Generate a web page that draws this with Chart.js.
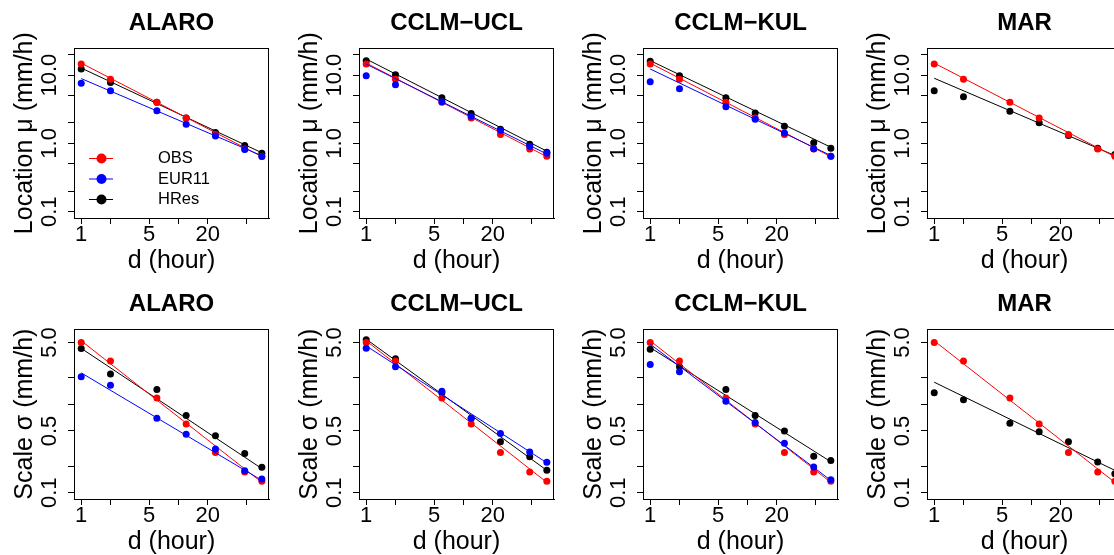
<!DOCTYPE html>
<html>
<head>
<meta charset="utf-8">
<script src="https://cdn.jsdelivr.net/npm/chart.js@4.4.0/dist/chart.umd.min.js"></script>
<style>
  html, body { margin: 0; padding: 0; background: #fff; overflow: hidden; }
  #wrap { position: relative; width: 1114px; height: 555px; overflow: hidden; }
  .cell { position: absolute; width: 285px; height: 280px; }
</style>
</head>
<body>
<div id="wrap"></div>
<script>
// durations d (hours) and the ends of the fitted lines
var durations = [1, 2, 6, 12, 24, 48, 72];
var fitEnds = [1, 72];

var models = ['ALARO', 'CCLM\u2212UCL', 'CCLM\u2212KUL', 'MAR'];

// x axis ticks
var xTicks = [1, 2, 5, 10, 20, 50];
var xTickLabels = ['1', '', '5', '', '20', ''];

// location mu (mm/h), top row
var locTicks = [0.1, 0.2, 0.5, 1, 2, 5, 10, 20];
var locTickLabels = ['0.1', '', '', '1.0', '', '', '10.0', ''];
var locObs = [14.5, 8.7, 4.0, 2.35, 1.35, 0.83, 0.65];
var locObsFit = [15.0, 0.64];
var locEur = [
  [7.6, 5.9, 3.0, 1.91, 1.28, 0.815, 0.643],
  [9.8, 7.2, 4.07, 2.5, 1.56, 0.91, 0.72],
  [8.0, 6.3, 3.44, 2.26, 1.42, 0.835, 0.65],
  null
];
var locEurFit = [[8.9, 0.66], [14.5, 0.70], [12.3, 0.665], null];
var locHres = [
  [12.3, 7.8, 4.0, 2.36, 1.44, 0.93, 0.72],
  [16.3, 10.1, 4.67, 2.75, 1.61, 0.97, 0.74],
  [15.9, 9.8, 4.67, 2.8, 1.78, 1.02, 0.85],
  [5.9, 4.83, 2.97, 2.0, 1.31, 0.85, 0.69]
];
var locHresFit = [[12.7, 0.73], [17.2, 0.77], [16.3, 0.88], [9.0, 0.665]];

// scale sigma (mm/h), bottom row
var scaleTicks = [0.1, 0.2, 0.5, 1, 2, 5];
var scaleTickLabels = ['0.1', '', '0.5', '', '', '5.0'];
var scaleObs = [5.0, 3.1, 1.18, 0.60, 0.285, 0.172, 0.135];
var scaleObsFit = [5.23, 0.131];
var scaleEur = [
  [2.05, 1.64, 0.698, 0.458, 0.312, 0.177, 0.143],
  [4.3, 2.66, 1.41, 0.698, 0.467, 0.288, 0.221],
  [2.83, 2.33, 1.08, 0.622, 0.362, 0.196, 0.14],
  null
];
var scaleEurFit = [[2.27, 0.138], [4.58, 0.218], [4.79, 0.138], null];
var scaleHres = [
  [4.27, 2.21, 1.47, 0.748, 0.442, 0.278, 0.194],
  [5.36, 3.28, 1.35, 0.698, 0.377, 0.255, 0.179],
  [4.2, 2.66, 1.47, 0.748, 0.5, 0.259, 0.231],
  [1.35, 1.13, 0.611, 0.491, 0.377, 0.223, 0.164]
];
var scaleHresFit = [[4.3, 0.1875], [5.46, 0.179], [4.39, 0.224], [1.78, 0.179]];

var seriesNames = ['OBS', 'EUR11', 'HRes'];
var seriesColors = ['#ff0000', '#0000ff', '#000000'];

Chart.defaults.font.family = "'Liberation Sans', Arial, sans-serif";
Chart.defaults.color = '#000';

// box around the plot region, like R's bty="o"
var boxPlugin = {
  id: 'rBox',
  afterDraw: function(chart) {
    var ca = chart.chartArea, ctx = chart.ctx;
    ctx.save();
    ctx.strokeStyle = '#000';
    ctx.lineWidth = 1;
    ctx.strokeRect(Math.round(ca.left) + 0.5, Math.round(ca.top) + 0.5,
      Math.round(ca.right - ca.left) - 1, Math.round(ca.bottom - ca.top));
    ctx.restore();
  }
};

// legend drawn inside the plot region (first panel only)
var legendPlugin = {
  id: 'rLegend',
  afterDraw: function(chart, args, opts) {
    if (!opts.show) return;
    var ca = chart.chartArea, ctx = chart.ctx;
    var rows = [59.5, 39, 18.5];
    ctx.save();
    for (var i = 0; i < seriesNames.length; i++) {
      var y = ca.bottom - rows[i];
      ctx.strokeStyle = seriesColors[i];
      ctx.lineWidth = 1;
      ctx.beginPath();
      ctx.moveTo(ca.left + 15, y);
      ctx.lineTo(ca.left + 39, y);
      ctx.stroke();
      ctx.fillStyle = seriesColors[i];
      ctx.beginPath();
      ctx.arc(ca.left + 27.5, y, 5, 0, Math.PI * 2);
      ctx.fill();
      ctx.fillStyle = '#000';
      ctx.font = "16.5px 'Liberation Sans', Arial, sans-serif";
      ctx.textAlign = 'left';
      ctx.textBaseline = 'middle';
      ctx.fillText(seriesNames[i], ca.left + 84, y);
    }
    ctx.restore();
  }
};

function pts(arr) {
  return durations.map(function(d, i) { return {x: d, y: arr[i]}; });
}
function fitPts(arr) {
  return fitEnds.map(function(d, i) { return {x: d, y: arr[i]}; });
}

function seriesSets(points, fit, color) {
  return [
    {data: pts(points), showLine: false, pointRadius: 3.5, pointHoverRadius: 3.5,
     pointBorderWidth: 0, backgroundColor: color, borderColor: color},
    {data: fitPts(fit), showLine: true, pointRadius: 0, borderWidth: 1,
     borderColor: color, backgroundColor: color}
  ];
}

var colLeft = [0, 285, 569, 853];
var rowTop = [0, 281];
var wrap = document.getElementById('wrap');

function makePanel(col, row) {
  var div = document.createElement('div');
  div.className = 'cell';
  div.style.left = colLeft[col] + 'px';
  div.style.top = rowTop[row] + 'px';
  var canvas = document.createElement('canvas');
  canvas.width = 285;
  canvas.height = 280;
  div.appendChild(canvas);
  wrap.appendChild(div);

  var isLoc = row === 0;
  var obs = isLoc ? locObs : scaleObs;
  var obsFit = isLoc ? locObsFit : scaleObsFit;
  var eur = isLoc ? locEur[col] : scaleEur[col];
  var eurFit = isLoc ? locEurFit[col] : scaleEurFit[col];
  var hres = isLoc ? locHres[col] : scaleHres[col];
  var hresFit = isLoc ? locHresFit[col] : scaleHresFit[col];
  var yTicks = isLoc ? locTicks : scaleTicks;
  var yLabels = isLoc ? locTickLabels : scaleTickLabels;

  // first dataset is drawn on top
  var datasets = [];
  if (eur) datasets = datasets.concat(seriesSets(eur, eurFit, seriesColors[1]));
  datasets = datasets.concat(seriesSets(obs, obsFit, seriesColors[0]));
  datasets = datasets.concat(seriesSets(hres, hresFit, seriesColors[2]));

  new Chart(canvas, {
    type: 'scatter',
    data: {datasets: datasets},
    options: {
      responsive: false,
      animation: false,
      events: [],
      layout: {padding: {left: 0, right: 16, top: 0, bottom: 0}},
      plugins: {
        legend: {display: false},
        tooltip: {enabled: false},
        title: {
          display: true,
          text: models[col],
          fullSize: false,
          color: '#000',
          font: {size: 24, weight: 'bold'},
          padding: {top: 9, bottom: 10.5}
        },
        rLegend: {show: row === 0 && col === 0}
      },
      scales: {
        x: {
          type: 'logarithmic',
          bounds: 'data',
          min: 0.843,
          max: 85.3,
          afterBuildTicks: function(s) {
            s.ticks = xTicks.map(function(v) { return {value: v}; });
          },
          afterFit: function(s) { s.height = 62; },
          ticks: {
            autoSkip: false, minRotation: 0, maxRotation: 0, padding: 0,
            color: '#000', font: {size: 22, lineHeight: 1},
            callback: function(v, i) { return xTickLabels[i]; }
          },
          grid: {drawOnChartArea: false, drawTicks: true, tickLength: 6, color: '#000', lineWidth: 1},
          border: {display: true, color: '#000', width: 1},
          title: {display: true, text: 'd (hour)', color: '#000', font: {size: 25}, padding: {top: 0, bottom: 4}}
        },
        y: {
          type: 'logarithmic',
          bounds: 'data',
          min: isLoc ? 0.0809 : 0.0849,
          max: isLoc ? 24.7 : 7.06,
          afterBuildTicks: function(s) {
            s.ticks = yTicks.map(function(v) { return {value: v}; });
          },
          afterFit: function(s) { s.width = 74; },
          ticks: {
            autoSkip: false, minRotation: 90, maxRotation: 90, crossAlign: 'center',
            padding: isLoc ? -3 : 3.2,
            color: '#000', font: {size: 22, lineHeight: 1},
            callback: function(v, i) { return yLabels[i]; }
          },
          grid: {drawOnChartArea: false, drawTicks: true, tickLength: 6, color: '#000', lineWidth: 1},
          border: {display: true, color: '#000', width: 1},
          title: {display: true, text: isLoc ? 'Location \u03bc (mm/h)' : 'Scale \u03c3 (mm/h)',
                  color: '#000', font: {size: 25}, padding: {top: 10, bottom: 0}}
        }
      }
    },
    plugins: [boxPlugin, legendPlugin]
  });
}

for (var r = 0; r < 2; r++) {
  for (var c = 0; c < 4; c++) {
    makePanel(c, r);
  }
}
</script>
</body>
</html>
